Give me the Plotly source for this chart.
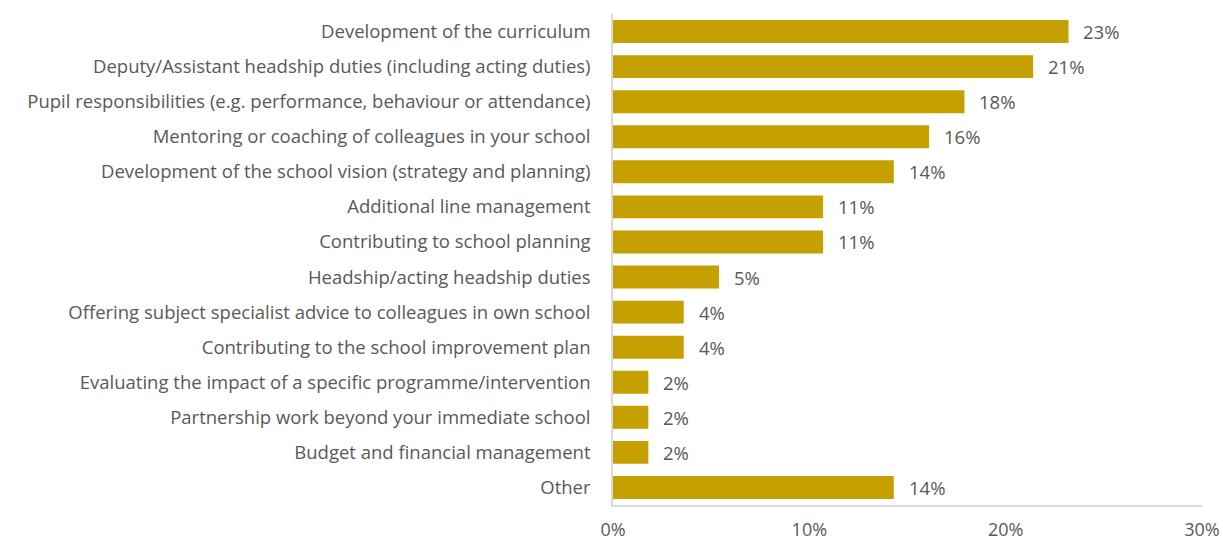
import plotly.graph_objects as go

categories = [
    "Development of the curriculum",
    "Deputy/Assistant headship duties (including acting duties)",
    "Pupil responsibilities (e.g. performance, behaviour or attendance)",
    "Mentoring or coaching of colleagues in your school",
    "Development of the school vision (strategy and planning)",
    "Additional line management",
    "Contributing to school planning",
    "Headship/acting headship duties",
    "Offering subject specialist advice to colleagues in own school",
    "Contributing to the school improvement plan",
    "Evaluating the impact of a specific programme/intervention",
    "Partnership work beyond your immediate school",
    "Budget and financial management",
    "Other",
]
values = [23.2, 21.4, 17.9, 16.1, 14.3, 10.7, 10.7, 5.4, 3.6, 3.6, 1.8, 1.8, 1.8, 14.3]
tick_vals = [0, 10, 20, 30]
tick_text = ["0%", "10%", "20%", "30%"]

FONT = "Open Sans"
SIZE = 18.5
GREY = "#595959"

fig = go.Figure(
    go.Bar(
        x=values,
        y=categories,
        orientation="h",
        marker=dict(color="#C4A000", line=dict(width=0)),
        hoverinfo="skip",
    )
)

for cat, v in zip(categories, values):
    fig.add_annotation(
        x=v,
        y=cat,
        xref="x",
        yref="y",
        text=f"{v:.0f}%",
        showarrow=False,
        xanchor="left",
        yanchor="middle",
        xshift=13,
        font=dict(family=FONT, size=SIZE, color=GREY),
    )

fig.update_layout(
    width=1223,
    height=543,
    margin=dict(l=613, r=21, t=14, b=38, autoexpand=False),
    paper_bgcolor="white",
    plot_bgcolor="white",
    bargap=0.346,
    showlegend=False,
    font=dict(family=FONT, size=SIZE, color=GREY),
)
fig.update_xaxes(
    range=[0, 30],
    tickvals=tick_vals,
    ticktext=tick_text,
    showgrid=False,
    zeroline=False,
    showline=True,
    linecolor="#D9D9D9",
    linewidth=1.5,
    ticks="",
    automargin=False,
    ticklabelstandoff=8,
    tickfont=dict(family=FONT, size=18, color=GREY),
)
fig.update_yaxes(
    autorange="reversed",
    showgrid=False,
    showline=True,
    linecolor="#D9D9D9",
    linewidth=1.5,
    ticks="",
    automargin=False,
    ticklabelstandoff=17,
    tickfont=dict(family=FONT, size=SIZE, color=GREY),
)

fig.write_html(
    "out.html",
    config={"displayModeBar": False},
    post_script="document.body.style.margin='0';document.body.style.padding='0';",
)
